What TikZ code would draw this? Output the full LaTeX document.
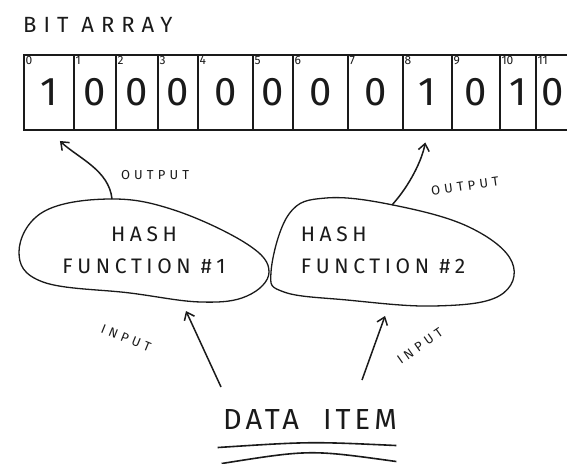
\documentclass[tikz,border=0pt]{standalone}
\usepackage{fontspec}
\setmainfont{Fira Sans}
\newfontfamily\handfont[LetterSpace=14]{Fira Sans}
\newfontfamily\handmid[LetterSpace=22]{Fira Sans}
\newfontfamily\handwide[LetterSpace=32]{Fira Sans}
\usetikzlibrary{arrows.meta,calc}
\definecolor{Ink}{HTML}{1A1A1A}
\tikzset{
  cellbox/.style={draw=Ink,line width=1.4pt,minimum height=75pt,inner sep=0pt,font=\fontsize{40}{40}\selectfont,text=Ink},
  idxlabel/.style={anchor=north west,inner sep=2pt,font=\fontsize{12}{12}\selectfont,text=Ink},
  blob/.style={draw=Ink,line width=1.3pt},
  hashtext/.style={font=\handmid\fontsize{21}{32}\selectfont,text=Ink},
  tag/.style={font=\handwide\fontsize{13}{13}\selectfont,text=Ink,inner sep=1pt},
  line/.style={-{Straight Barb[length=7pt,width=11pt]},draw=Ink,line width=1.5pt}
}
\begin{document}
\begin{tikzpicture}[x=1pt,y=-1pt]
  \useasboundingbox[fill=white] (0,0) rectangle (567,463);
  \node[anchor=west,inner sep=0pt,font=\handwide\fontsize{22}{22}\selectfont,text=Ink] (title) at (23,25) {BIT ARRAY};
  % bit array cells
  \foreach \i/\l/\r/\v in {0/24/74/1,1/74/116/0,2/116/158/0,3/158/198/0,4/198/253/0,5/253/293/0,
                           6/293/348/0,7/348/403/0,8/403/452/1,9/452/500/0,10/500/536/1} {
    \node[cellbox,minimum width={(\r-\l)*1pt}] (c\i) at ({(\l+\r)/2},92.5) {\v};
    \node[idxlabel] (n\i) at (c\i.north west) {\i};
  }
  \node[cellbox,minimum width=140pt] (c11) at (606,92.5) {};
  \node[idxlabel] (n11) at (c11.north west) {11};
  \node[cellbox,draw=none,anchor=west] (d11) at ($(c11.west)+(5,0)$) {0};
  % hash functions
  \node[hashtext,align=center] (hash1) at (144,250) {HASH\\FUNCTION \#1};
  \node[hashtext,align=left] (hash2) at (383,250) {HASH\\FUNCTION \#2};
  \draw[blob] plot[smooth cycle,tension=0.65] coordinates {(19,252) (43,212) (109,199) (174,210) (247,244) (269,272) (247,296) (201,302) (130,293) (43,282)};
  \draw[blob] plot[smooth cycle,tension=0.65] coordinates {(271,272) (289,214) (326,198) (393,205) (469,227) (512,262) (499,296) (434,306) (347,300) (284,292)};
  \coordinate (h1top) at (112,199);
  \coordinate (h2top) at (392,205);
  \coordinate (h1bot) at (186,311);
  \coordinate (h2bot) at (385,316);
  % data item
  \node[font=\handfont\fontsize{29}{29}\selectfont,text=Ink] (data) at (310,420) {DATA\hspace{24pt}ITEM};
  \coordinate (in1) at (221,387);
  \coordinate (in2) at (362,380);
  \draw[Ink,line width=1.6pt] ($(data.south west)+(-2,14)$) .. controls ($(data.south)+(0,8)$) .. ($(data.south east)+(-4,12)$);
  \draw[Ink,line width=1.6pt] ($(data.south west)+(2,30)$) .. controls ($(data.south)+(0,16)$) .. ($(data.south east)+(-4,28)$);
  % connectors
  \draw[line,shorten >=15pt] (h1top) .. controls (109,170) and (78,158) .. (c0.south);
  \draw[line,shorten >=12pt] (h2top) .. controls (410,185) and (422,160) .. (c8.south);
  \draw[line] (in1) -- (h1bot);
  \draw[line] (in2) -- (h2bot);
  % labels
  \node[tag] (out1) at (155,175) {OUTPUT};
  \node[tag,rotate=8] (out2) at (465,186) {OUTPUT};
  \node[tag,rotate=-22] (inp1) at (126,338) {INPUT};
  \node[tag,rotate=35] (inp2) at (420,346) {INPUT};
\end{tikzpicture}
\end{document}
